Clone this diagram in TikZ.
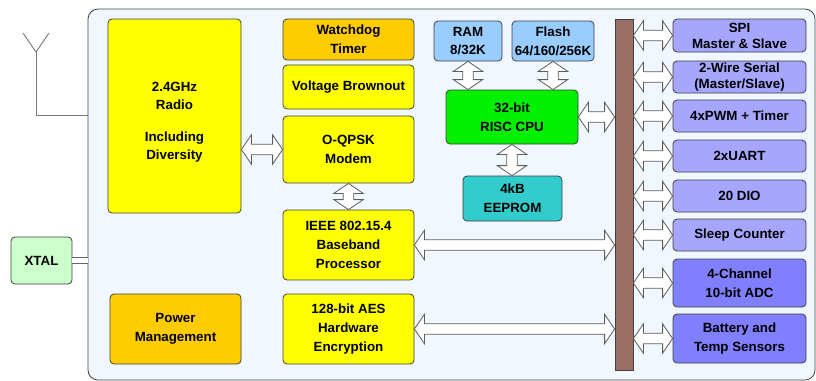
\documentclass[tikz,border=0pt]{standalone}
\usepackage{fontspec}
\setmainfont{Liberation Sans}
\usetikzlibrary{calc}

\definecolor{chipbg}{RGB}{240,247,255}
\definecolor{radioyellow}{RGB}{255,255,0}
\definecolor{amber}{RGB}{255,204,0}
\definecolor{memblue}{RGB}{153,204,255}
\definecolor{cpugreen}{RGB}{0,240,0}
\definecolor{eepromteal}{RGB}{51,204,204}
\definecolor{periph}{RGB}{166,166,255}
\definecolor{analog}{RGB}{128,128,255}
\definecolor{busbrown}{RGB}{153,112,99}
\definecolor{xtalgreen}{RGB}{204,255,204}
\definecolor{edge}{RGB}{64,64,64}

% hollow double arrows between two anchors
\newcommand{\hbiarrow}[2]{%
  \draw[blockarrow] let \p1=(#1), \p2=(#2) in
    (\x1,\y1) -- (\x1+7.5pt,\y1+11pt) -- (\x1+7.5pt,\y1+4pt)
    -- (\x2-7.5pt,\y1+4pt) -- (\x2-7.5pt,\y1+11pt) -- (\x2,\y1)
    -- (\x2-7.5pt,\y1-11pt) -- (\x2-7.5pt,\y1-4pt)
    -- (\x1+7.5pt,\y1-4pt) -- (\x1+7.5pt,\y1-11pt) -- cycle;}
\newcommand{\vbiarrow}[2]{%
  \draw[blockarrow] let \p1=(#1), \p2=(#2) in
    (\x1,\y1) -- (\x1+11pt,\y1-7.5pt) -- (\x1+4pt,\y1-7.5pt)
    -- (\x1+4pt,\y2+7.5pt) -- (\x1+11pt,\y2+7.5pt) -- (\x1,\y2)
    -- (\x1-11pt,\y2+7.5pt) -- (\x1-4pt,\y2+7.5pt)
    -- (\x1-4pt,\y1-7.5pt) -- (\x1-11pt,\y1-7.5pt) -- cycle;}

\begin{document}
\begin{tikzpicture}[x=0.75pt, y=-0.75pt,
    dims/.style 2 args={minimum width=#1*0.75pt, minimum height=#2*0.75pt},
    block/.style={draw=edge, line width=0.6pt, rounded corners=3pt, align=center,
                  inner sep=1pt, font=\fontsize{10}{14}\selectfont\bfseries},
    blockarrow/.style={draw=edge!85, fill=white, line width=0.6pt},
    wire/.style={draw=edge!70, line width=0.7pt}]
    \useasboundingbox (0,0) rectangle (816,380);

    % chip outline
    \node[draw=edge, fill=chipbg, line width=0.6pt, rounded corners=7.5pt,
          dims={727}{371}] (chip) at (451.5,194.5) {};

    % antenna and crystal
    \coordinate (ant) at (36,52);
    \draw[wire] (23,33) -- (ant) -- (49,33);
    \draw[wire] (ant) |- (chip.west |- 0,115);
    \node[block, fill=xtalgreen, dims={61}{47}] (xtal) at (41.5,260.5) {XTAL};
    \draw[draw=edge!80, double=white, double distance=3.5pt, line width=0.6pt]
        (xtal.east) -- (chip.west |- xtal.east);

    % radio side
    \node[block, fill=radioyellow, dims={133}{194},
          label={[align=center, font=\fontsize{10}{13.5}\selectfont\bfseries, yshift=-4.5pt]center:2.4GHz\\Radio\\[10.5pt]Including\\Diversity}]
          (radio) at (174.5,116) {};
    \node[block, fill=amber, dims={131}{70}] (power) at (175.5,329) {Power\\Management};
    \node[block, fill=amber, dims={131}{41}] (wdog) at (348.5,39.5) {Watchdog\\Timer};
    \node[block, fill=radioyellow, dims={131}{44}] (brown) at (348.5,87) {Voltage Brownout};
    \node[block, fill=radioyellow, dims={131}{67}] (modem) at (348.5,149.5) {O-QPSK\\Modem};
    \node[block, fill=radioyellow, dims={131}{70}] (ieee) at (348.5,245) {IEEE 802.15.4\\Baseband\\Processor};
    \node[block, fill=radioyellow, dims={131}{70}] (aes) at (348.5,329) {128-bit AES\\Hardware\\Encryption};

    % processor and memories
    \node[block, fill=memblue, dims={68}{40}] (ram) at (468,41) {RAM\\8/32K};
    \node[block, fill=memblue, dims={82}{40}] (flash) at (553,41) {Flash\\64/160/256K};
    \node[block, fill=cpugreen, dims={132}{54}] (cpu) at (512,117) {32-bit\\RISC CPU};
    \node[block, fill=eepromteal, dims={99}{45}] (eeprom) at (512.5,198.5) {4kB\\EEPROM};

    % bus
    \node[draw=edge, fill=busbrown, line width=0.6pt, dims={18}{351}] (bus) at (624,194.5) {};

    % peripherals
    \node[block, fill=periph, dims={133}{33}] (spi) at (739.5,35.5) {SPI\\[-2pt]Master \& Slave};
    \node[block, fill=periph, dims={133}{32}] (twi) at (739.5,77) {2-Wire Serial\\[-2pt](Master/Slave)};
    \node[block, fill=periph, dims={133}{32}] (pwm) at (739.5,116) {4xPWM + Timer};
    \node[block, fill=periph, dims={133}{32}] (uart) at (739.5,156) {2xUART};
    \node[block, fill=periph, dims={133}{32}] (dio) at (739.5,196) {20 DIO};
    \node[block, fill=periph, dims={133}{32}] (sleep) at (739.5,235) {Sleep Counter};
    \node[block, fill=analog, dims={133}{48}] (adc) at (739.5,283) {4-Channel\\10-bit ADC};
    \node[block, fill=analog, dims={133}{49}] (batt) at (739.5,338.5) {Battery and\\Temp Sensors};

    % block arrows
    \hbiarrow{radio.east |- modem.west}{modem.west}
    \hbiarrow{cpu.east}{bus.west |- cpu.east}
    \hbiarrow{ieee.east}{bus.west |- ieee.east}
    \hbiarrow{aes.east}{bus.west |- aes.east}
    \foreach \per in {spi,twi,pwm,uart,dio,sleep,adc,batt}{
        \hbiarrow{bus.east |- \per.west}{\per.west}
    }
    \vbiarrow{ram.south}{cpu.north -| ram.south}
    \vbiarrow{flash.south}{cpu.north -| flash.south}
    \vbiarrow{cpu.south}{eeprom.north -| cpu.south}
    \vbiarrow{modem.south}{ieee.north}
\end{tikzpicture}
\end{document}
